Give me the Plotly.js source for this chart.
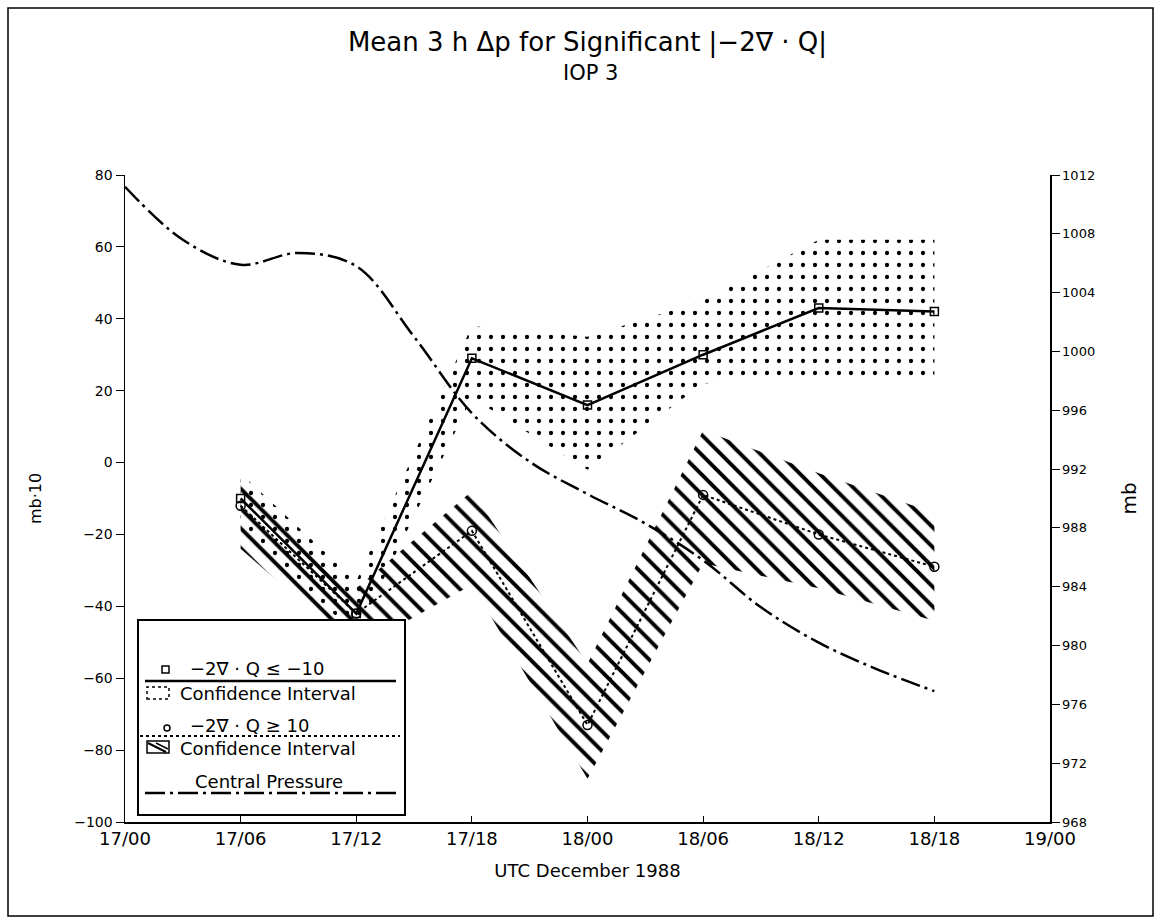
<!DOCTYPE html>
<html>
<head>
<meta charset="utf-8">
<script src="https://cdn.plot.ly/plotly-3.0.1.min.js"></script>
<style>html,body{margin:0;padding:0;background:#fff;}#chart{width:1162px;height:924px;}</style>
</head>
<body>
<div id="chart"></div>
<script>
// ---- data ----
const tickHours = [0, 6, 12, 18, 24, 30, 36, 42, 48];
const tickLabels = ["17/00", "17/06", "17/12", "17/18", "18/00", "18/06", "18/12", "18/18", "19/00"];

const obsHours = [6, 12, 18, 24, 30, 36, 42];
// -2∇·Q <= -10 (mb*10)
const negMean = [-10, -42, 29, 16, 30, 43, 42];
const negUpper = [-3, -33, 38, 35, 45, 62, 62];
const negLower = [-18, -48, 18, -2, 22, 24, 24];
// -2∇·Q >= 10 (mb*10)
const posMean = [-12, -42, -19, -73, -9, -20, -29];
const posUpper = [-6, -35, -8, -56, 9, -3, -14];
const posLower = [-24, -52, -34, -88, -28, -35, -44];

// central pressure (mb)
const presHours = [0, 3, 6, 9, 12, 15, 18, 21, 24, 27, 30, 33, 36, 39, 42];
const pressure = [1011.2, 1007.6, 1005.9, 1006.7, 1005.8, 1001.0, 995.8, 992.5, 990.3, 988.3, 985.8, 982.6, 980.2, 978.4, 976.9];

// ---- page geometry helpers (decorations only) ----
const L = 125, R = 1050, T = 175, B = 822;
const px = x => (x - L) / (R - L);
const py = y => (B - y) / (B - T);

const poly = (xs, up, lo) => ({
  x: xs.concat(xs.slice().reverse()),
  y: up.concat(lo.slice().reverse())
});
const p1 = poly(obsHours, negUpper, negLower);
const p2 = poly(obsHours, posUpper, posLower);

const FONT = "DejaVu Sans, Liberation Sans, sans-serif";

const traces = [
  {
    x: p1.x, y: p1.y, type: "scatter", mode: "lines", fill: "toself",
    line: {width: 0, color: "rgba(0,0,0,0)"},
    fillcolor: "rgba(255,255,255,0)",
    fillpattern: {shape: ".", size: 12, solidity: 0.1, fgcolor: "#000", bgcolor: "rgba(255,255,255,0)", fillmode: "replace"},
    hoverinfo: "skip", showlegend: false
  },
  {
    x: p2.x, y: p2.y, type: "scatter", mode: "lines", fill: "toself",
    line: {width: 0, color: "rgba(0,0,0,0)"},
    fillcolor: "rgba(255,255,255,0)",
    fillpattern: {shape: "\\", size: 14, solidity: 0.28, fgcolor: "#000", bgcolor: "rgba(255,255,255,0)", fillmode: "replace"},
    hoverinfo: "skip", showlegend: false
  },
  {
    x: presHours, y: pressure, yaxis: "y2", type: "scatter", mode: "lines",
    line: {color: "#000", width: 2.5, shape: "spline", dash: "20px,5px,3px,5px"},
    showlegend: false
  },
  {
    x: obsHours, y: posMean, type: "scatter", mode: "lines+markers",
    line: {color: "#000", width: 2, dash: "dot"},
    marker: {symbol: "circle-open", size: 9, color: "#000", line: {width: 1.5}},
    showlegend: false
  },
  {
    x: obsHours, y: negMean, type: "scatter", mode: "lines+markers",
    line: {color: "#000", width: 2.5},
    marker: {symbol: "square-open", size: 8, color: "#000", line: {width: 1.5}},
    showlegend: false
  }
];

// ---- legend & frame drawn as shapes/annotations ----
const shapes = [
  {type: "rect", xref: "paper", yref: "paper", x0: px(8), x1: px(1153), y0: py(916), y1: py(8),
   line: {color: "#000", width: 1.5}, layer: "below"},
  {type: "rect", xref: "paper", yref: "paper", x0: px(138), x1: px(405), y0: py(815), y1: py(620),
   line: {color: "#000", width: 2}, fillcolor: "#fff", layer: "above"},
  {type: "rect", xref: "paper", yref: "paper", x0: px(162), x1: px(169), y0: py(673), y1: py(666),
   line: {color: "#000", width: 1.5}, layer: "above"},
  {type: "line", xref: "paper", yref: "paper", x0: px(145), x1: px(396), y0: py(681), y1: py(681),
   line: {color: "#000", width: 2.5}, layer: "above"},
  {type: "rect", xref: "paper", yref: "paper", x0: px(147), x1: px(169), y0: py(699), y1: py(687),
   line: {color: "#000", width: 1.5, dash: "dot"}, layer: "above"},
  {type: "circle", xref: "paper", yref: "paper", x0: px(164), x1: px(170), y0: py(731), y1: py(725),
   line: {color: "#000", width: 1.5}, layer: "above"},
  {type: "line", xref: "paper", yref: "paper", x0: px(140), x1: px(400), y0: py(736), y1: py(736),
   line: {color: "#000", width: 2, dash: "dot"}, layer: "above"},
  {type: "rect", xref: "paper", yref: "paper", x0: px(147), x1: px(169), y0: py(753), y1: py(741),
   line: {color: "#000", width: 1.5}, layer: "above"},
  {type: "line", xref: "paper", yref: "paper", x0: px(148), x1: px(166), y0: py(743), y1: py(752),
   line: {color: "#000", width: 2}, layer: "above"},
  {type: "line", xref: "paper", yref: "paper", x0: px(156), x1: px(168), y0: py(743), y1: py(749),
   line: {color: "#000", width: 1.5}, layer: "above"},
  {type: "line", xref: "paper", yref: "paper", x0: px(145), x1: px(396), y0: py(793), y1: py(793),
   line: {color: "#000", width: 2.5, dash: "20px,5px,3px,5px"}, layer: "above"}
];

const legText = (txt, x, y) => ({
  text: txt, xref: "paper", yref: "paper", x: px(x), y: py(y),
  xanchor: "left", yanchor: "middle", showarrow: false,
  font: {family: FONT, size: 18, color: "#000"}
});
const annotations = [
  legText("−2∇ · Q ≤ −10", 188, 668),
  legText("Confidence Interval", 178, 693),
  legText("−2∇ · Q ≥ 10", 188, 725),
  legText("Confidence Interval", 178, 748),
  legText("Central Pressure", 193, 781),
  {text: "IOP 3", xref: "paper", yref: "paper", x: px(590), y: py(73),
   xanchor: "center", yanchor: "middle", showarrow: false,
   font: {family: FONT, size: 21, color: "#000"}}
];

const layout = {
  width: 1162, height: 924,
  paper_bgcolor: "#fff", plot_bgcolor: "rgba(0,0,0,0)",
  margin: {l: L, r: 1162 - R, t: T, b: 924 - B, pad: 0},
  font: {family: FONT, color: "#000"},
  title: {
    text: "Mean 3 h Δp for Significant |−2∇ · Q|",
    font: {family: FONT, size: 26, color: "#000"},
    x: 0.5, xref: "paper", xanchor: "center",
    y: 1 - 42 / 924, yref: "container", yanchor: "middle"
  },
  xaxis: {
    range: [0, 48], tickvals: tickHours, ticktext: tickLabels,
    showline: true, linecolor: "#000", linewidth: 1.5, mirror: false,
    ticks: "inside", ticklen: 6, tickcolor: "#000", showgrid: false, zeroline: false,
    tickfont: {family: FONT, size: 18, color: "#000"},
    title: {text: "UTC December 1988", font: {family: FONT, size: 18, color: "#000"}, standoff: 16}
  },
  yaxis: {
    range: [-100, 80], dtick: 20, tick0: 0,
    showline: true, linecolor: "#000", linewidth: 1.5,
    ticks: "outside", ticklen: 8, tickcolor: "#000", showgrid: false, zeroline: false,
    tickfont: {family: FONT, size: 14, color: "#000"},
    title: {text: "mb·10", font: {family: FONT, size: 16, color: "#000"}, standoff: 28}
  },
  yaxis2: {
    range: [968, 1012], dtick: 4, tick0: 968, overlaying: "y", side: "right",
    showline: true, linecolor: "#000", linewidth: 1.5,
    ticks: "outside", ticklen: 8, tickcolor: "#000", showgrid: false, zeroline: false,
    tickfont: {family: FONT, size: 13, color: "#000"},
    title: {text: "mb", font: {family: FONT, size: 20, color: "#000"}, standoff: 28}
  },
  shapes: shapes,
  annotations: annotations,
  showlegend: false
};

Plotly.newPlot("chart", traces, layout, {staticPlot: true, displayModeBar: false});
</script>
</body>
</html>
